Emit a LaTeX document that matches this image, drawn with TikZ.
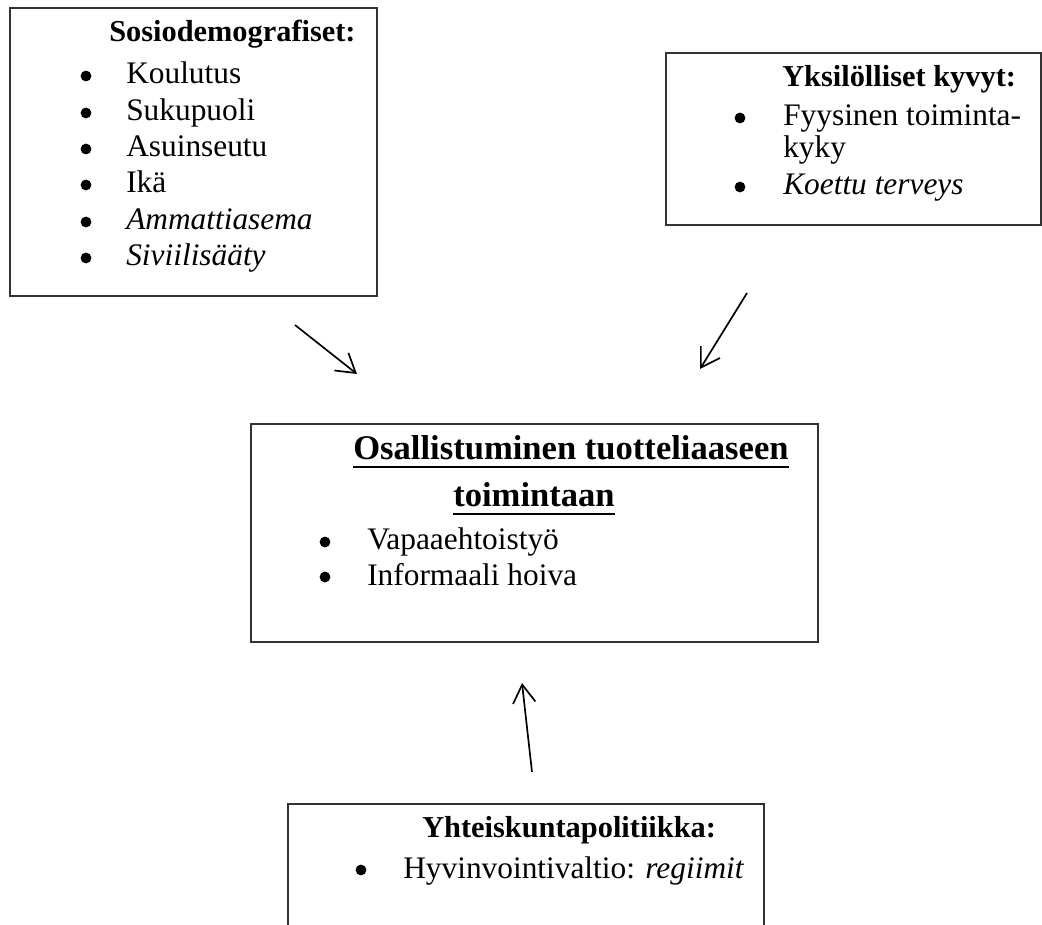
\documentclass[tikz,border=0pt]{standalone}
\usepackage{fontspec}
\setmainfont{Liberation Serif}
\usetikzlibrary{arrows.meta, positioning, fit, calc}

\begin{document}
\begin{tikzpicture}[x=0.025cm, y=-0.025cm,
    box/.style={draw=black!80, line width=0.8pt, inner sep=0},
    txt/.style={inner sep=0, anchor=base west, font=\fontsize{22.3}{26}\selectfont},
    head/.style={txt, font=\fontsize{21.6}{26}\selectfont\bfseries},
    bighead/.style={txt, font=\fontsize{24.6}{29}\selectfont\bfseries},
    dot/.style={circle, fill, inner sep=0, minimum size=0.27cm},
    arr/.style={line width=1.2pt, -{Straight Barb[length=13pt, width=16pt]}}]
      \useasboundingbox (0,0) rectangle (1042,925);

      % Boxes
      \node[box, fit={(10,8) (377,296)}] (socio) {};
      \node[box, fit={(666,53) (1041,225)}] (kyvyt) {};
      \node[box, fit={(251,424) (818,642)}] (osall) {};
      \node[box, fit={(288,804) (764,960)}] (politiikka) {};

      % Sosiodemografiset
      \node[head] (sociohead) at (109,42) {Sosiodemografiset:};
      \foreach \y/\item [count=\i] in {84/Koulutus, 121/Sukupuoli, 157/Asuinseutu,
          193/Ikä, 230/{\textit{Ammattiasema}}, 266/{\textit{Siviilisääty}}} {
          \node[dot] (sb\i) at (86,\y-8) {};
          \node[txt] (si\i) at (126,\y) {\item};
      }

      % Yksilolliset kyvyt
      \node[head] (kyvythead) at (782,87) {Yksilölliset kyvyt:};
      \node[dot] (kb1) at (740,118) {};
      \node[txt] (ki1) at (783,126) {Fyysinen toiminta-};
      \node[txt] (ki1b) at (783,158) {kyky};
      \node[dot] (kb2) at (740,187) {};
      \node[txt] (ki2) at (783,195) {\textit{Koettu terveys}};

      % Osallistuminen
      \node[bighead] (osallhead) at (353,460) {Osallistuminen tuotteliaaseen};
      \node[bighead] (osallhead2) at (453,507) {toimintaan};
      \draw[line width=1.4pt] ([yshift=-5pt]osallhead.base west) -- ([yshift=-5pt]osallhead.base east);
      \draw[line width=1.4pt] ([yshift=-5pt]osallhead2.base west) -- ([yshift=-5pt]osallhead2.base east);
      \foreach \y/\item [count=\i] in {550/Vapaaehtoistyö, 585/Informaali hoiva} {
          \node[dot] (ob\i) at (325,\y-8) {};
          \node[txt] (oi\i) at (367,\y) {\item};
      }

      % Yhteiskuntapolitiikka
      \node[head] (politiikkahead) at (422,837) {Yhteiskuntapolitiikka:};
      \node[dot] (pb1) at (361,870) {};
      \node[txt] (pi1) at (403,878) {Hyvinvointivaltio: \textit{regiimit}};

      % Arrows
      \coordinate (a1s) at (295,325);
      \coordinate (a1e) at (357,374);
      \coordinate (a2s) at (747,293);
      \coordinate (a2e) at (700,369);
      \coordinate (a3s) at (532,772);
      \coordinate (a3e) at (522,683);
      \draw[arr] (a1s) -- (a1e);
      \draw[arr] (a2s) -- (a2e);
      \draw[arr] (a3s) -- (a3e);
    \end{tikzpicture}
\end{document}
